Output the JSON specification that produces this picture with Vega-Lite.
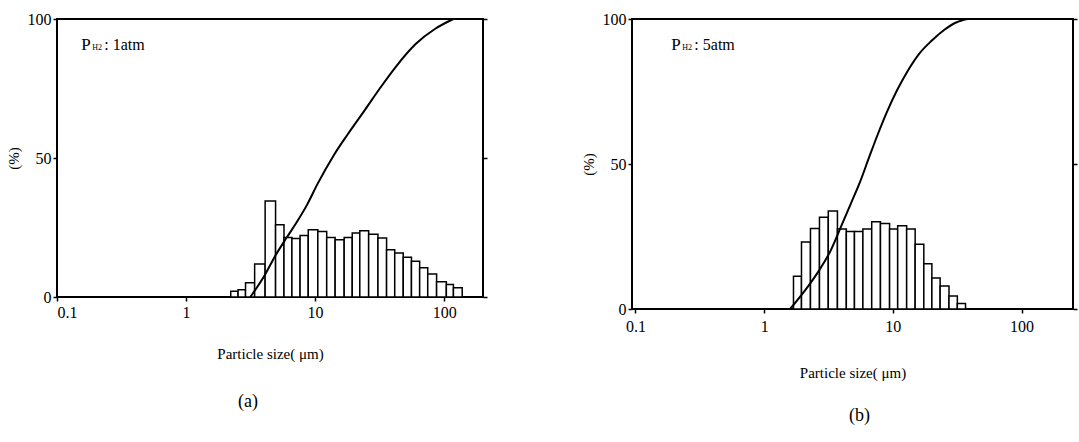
{
 "$schema": "https://vega.github.io/schema/vega-lite/v6.json",
 "padding": {"left": 5, "top": 10, "right": 0, "bottom": 0},
 "background": "white",
 "config": {
  "font": "Liberation Serif",
  "view": {"stroke": "black", "strokeWidth": 2},
  "axis": {"labelFont": "Liberation Serif", "labelFontSize": 16, "labelColor": "black", "titleFont": "Liberation Serif", "titleFontSize": 15, "titleFontWeight": "normal", "titleColor": "black", "domain": false, "grid": false, "tickColor": "black", "tickSize": 4, "tickWidth": 1.5, "labelPadding": 2},
  "title": {"font": "Liberation Serif", "fontSize": 18, "fontWeight": "normal", "color": "black"},
  "concat": {"spacing": 91}
 },
 "datasets": {
  "barsA": [
   {"lo": 2.22, "hi": 2.53, "pct": 2.1}, {"lo": 2.53, "hi": 2.89, "pct": 2.6}, {"lo": 2.89, "hi": 3.40, "pct": 5.1},
   {"lo": 3.40, "hi": 4.10, "pct": 11.9}, {"lo": 4.10, "hi": 4.94, "pct": 34.5}, {"lo": 4.94, "hi": 5.74, "pct": 26.0},
   {"lo": 5.74, "hi": 6.61, "pct": 21.4}, {"lo": 6.61, "hi": 7.65, "pct": 21.0}, {"lo": 7.65, "hi": 8.85, "pct": 22.1},
   {"lo": 8.85, "hi": 10.5, "pct": 24.2}, {"lo": 10.5, "hi": 12.3, "pct": 23.6}, {"lo": 12.3, "hi": 14.3, "pct": 21.4},
   {"lo": 14.3, "hi": 16.8, "pct": 20.6}, {"lo": 16.8, "hi": 19.4, "pct": 21.4}, {"lo": 19.4, "hi": 22.2, "pct": 23.0},
   {"lo": 22.2, "hi": 26.0, "pct": 23.8}, {"lo": 26.0, "hi": 30.7, "pct": 22.6}, {"lo": 30.7, "hi": 35.8, "pct": 21.2},
   {"lo": 35.8, "hi": 41.4, "pct": 17.0}, {"lo": 41.4, "hi": 48.2, "pct": 15.8}, {"lo": 48.2, "hi": 55.8, "pct": 14.3},
   {"lo": 55.8, "hi": 64.6, "pct": 12.9}, {"lo": 64.6, "hi": 74.6, "pct": 10.5}, {"lo": 74.6, "hi": 87.4, "pct": 8.3},
   {"lo": 87.4, "hi": 104, "pct": 5.5}, {"lo": 104, "hi": 118, "pct": 4.5}, {"lo": 118, "hi": 138, "pct": 3.3}
  ],
  "curveA": [
   {"size": 3.15, "cum": 0}, {"size": 4.10, "cum": 8.1}, {"size": 4.88, "cum": 14.6}, {"size": 5.99, "cum": 21.2},
   {"size": 7.34, "cum": 27.5}, {"size": 8.74, "cum": 33.5}, {"size": 10.4, "cum": 40.5}, {"size": 14.0, "cum": 51.1},
   {"size": 17.7, "cum": 58.2}, {"size": 24.5, "cum": 67.5}, {"size": 31.7, "cum": 75.0}, {"size": 42.5, "cum": 83.0},
   {"size": 60.1, "cum": 91.0}, {"size": 85.3, "cum": 96.5}, {"size": 118, "cum": 100}
  ],
  "barsB": [
   {"lo": 1.69, "hi": 1.95, "pct": 11.3}, {"lo": 1.95, "hi": 2.29, "pct": 23.1}, {"lo": 2.29, "hi": 2.69, "pct": 27.8},
   {"lo": 2.69, "hi": 3.15, "pct": 31.6}, {"lo": 3.15, "hi": 3.71, "pct": 33.8}, {"lo": 3.71, "hi": 4.35, "pct": 27.6},
   {"lo": 4.35, "hi": 5.03, "pct": 26.7}, {"lo": 5.03, "hi": 5.85, "pct": 26.7}, {"lo": 5.85, "hi": 6.85, "pct": 27.6},
   {"lo": 6.85, "hi": 8.01, "pct": 30.1}, {"lo": 8.01, "hi": 9.43, "pct": 29.5}, {"lo": 9.43, "hi": 10.9, "pct": 27.6},
   {"lo": 10.9, "hi": 12.8, "pct": 28.7}, {"lo": 12.8, "hi": 14.9, "pct": 27.6}, {"lo": 14.9, "hi": 17.4, "pct": 22.3},
   {"lo": 17.4, "hi": 20.1, "pct": 15.6}, {"lo": 20.1, "hi": 23.3, "pct": 10.7}, {"lo": 23.3, "hi": 27.3, "pct": 7.9},
   {"lo": 27.3, "hi": 31.7, "pct": 4.5}, {"lo": 31.7, "hi": 36.7, "pct": 1.9}
  ],
  "curveB": [
   {"size": 1.59, "cum": 0}, {"size": 2.2, "cum": 7.9}, {"size": 2.69, "cum": 13.5}, {"size": 3.3, "cum": 20.3},
   {"size": 3.94, "cum": 28.2}, {"size": 4.69, "cum": 36.1}, {"size": 5.58, "cum": 44}, {"size": 6.5, "cum": 52},
   {"size": 7.6, "cum": 60}, {"size": 9.0, "cum": 68}, {"size": 10.8, "cum": 75.5}, {"size": 13, "cum": 82},
   {"size": 16, "cum": 88}, {"size": 20, "cum": 92.5}, {"size": 25, "cum": 96.2}, {"size": 31, "cum": 98.8}, {"size": 38, "cum": 100}
  ],
  "labelA": [{"x": 0.154, "y": 90.6, "p": "P", "sub": "H2", "rest": ": 1atm"}],
  "labelB": [{"x": 0.19, "y": 91.0, "p": "P", "sub": "H2", "rest": ": 5atm"}]
 },
 "hconcat": [
  {
   "width": 426, "height": 278,
   "title": {"text": "(a)", "orient": "bottom", "offset": 32, "dx": -22},
   "resolve": {"axis": {"x": "independent", "y": "independent"}},
   "layer": [
    {"data": {"name": "barsA"},
     "mark": {"type": "rect", "fill": "white", "stroke": "black", "strokeWidth": 1.5},
     "encoding": {
      "x": {"field": "lo", "type": "quantitative", "scale": {"type": "log", "domain": [0.1, 200], "nice": false}, "axis": {"values": [0.1, 1, 10, 100], "format": "~g", "title": "Particle size( μm)", "titlePadding": 26, "labelPadding": 3}},
      "x2": {"field": "hi"},
      "y": {"field": "pct", "type": "quantitative", "scale": {"domain": [0, 100], "nice": false}, "axis": {"values": [0, 50, 100], "title": "(%)", "titlePadding": 6}},
      "y2": {"datum": 0}
     }},
    {"data": {"name": "curveA"},
     "mark": {"type": "line", "color": "black", "strokeWidth": 2, "interpolate": "monotone"},
     "encoding": {"x": {"field": "size", "type": "quantitative", "axis": null}, "y": {"field": "cum", "type": "quantitative", "axis": null}}},
    {"data": {"name": "labelA"},
     "mark": {"type": "text", "align": "left", "baseline": "middle", "fontSize": 17, "color": "black"},
     "encoding": {"x": {"field": "x", "type": "quantitative", "axis": null}, "y": {"field": "y", "type": "quantitative", "axis": {"orient": "right", "values": [0, 50, 100], "labels": false, "title": null}}, "text": {"field": "p"}}},
    {"data": {"name": "labelA"},
     "mark": {"type": "text", "align": "left", "baseline": "middle", "fontSize": 8, "dx": 11, "dy": 3, "color": "black"},
     "encoding": {"x": {"field": "x", "type": "quantitative", "axis": null}, "y": {"field": "y", "type": "quantitative", "axis": null}, "text": {"field": "sub"}}},
    {"data": {"name": "labelA"},
     "mark": {"type": "text", "align": "left", "baseline": "middle", "fontSize": 16, "dx": 23, "color": "black"},
     "encoding": {"x": {"field": "x", "type": "quantitative", "axis": null}, "y": {"field": "y", "type": "quantitative", "axis": null}, "text": {"field": "rest"}}}
   ]
  },
  {
   "width": 441, "height": 290,
   "title": {"text": "(b)", "orient": "bottom", "offset": 27, "dx": 7},
   "resolve": {"axis": {"x": "independent", "y": "independent"}},
   "layer": [
    {"data": {"name": "barsB"},
     "mark": {"type": "rect", "fill": "white", "stroke": "black", "strokeWidth": 1.5},
     "encoding": {
      "x": {"field": "lo", "type": "quantitative", "scale": {"type": "log", "domain": [0.094, 251], "nice": false}, "axis": {"values": [0.1, 1, 10, 100], "format": "~g", "title": "Particle size( μm)", "titlePadding": 31, "labelPadding": 5}},
      "x2": {"field": "hi"},
      "y": {"field": "pct", "type": "quantitative", "scale": {"domain": [0, 100], "nice": false}, "axis": {"values": [0, 50, 100], "title": "(%)", "titlePadding": 6}},
      "y2": {"datum": 0}
     }},
    {"data": {"name": "curveB"},
     "mark": {"type": "line", "color": "black", "strokeWidth": 2, "interpolate": "monotone"},
     "encoding": {"x": {"field": "size", "type": "quantitative", "axis": null}, "y": {"field": "cum", "type": "quantitative", "axis": null}}},
    {"data": {"name": "labelB"},
     "mark": {"type": "text", "align": "left", "baseline": "middle", "fontSize": 17, "color": "black"},
     "encoding": {"x": {"field": "x", "type": "quantitative", "axis": null}, "y": {"field": "y", "type": "quantitative", "axis": {"orient": "right", "values": [0, 50, 100], "labels": false, "title": null}}, "text": {"field": "p"}}},
    {"data": {"name": "labelB"},
     "mark": {"type": "text", "align": "left", "baseline": "middle", "fontSize": 8, "dx": 11, "dy": 3, "color": "black"},
     "encoding": {"x": {"field": "x", "type": "quantitative", "axis": null}, "y": {"field": "y", "type": "quantitative", "axis": null}, "text": {"field": "sub"}}},
    {"data": {"name": "labelB"},
     "mark": {"type": "text", "align": "left", "baseline": "middle", "fontSize": 16, "dx": 23, "color": "black"},
     "encoding": {"x": {"field": "x", "type": "quantitative", "axis": null}, "y": {"field": "y", "type": "quantitative", "axis": null}, "text": {"field": "rest"}}}
   ]
  }
 ]
}
